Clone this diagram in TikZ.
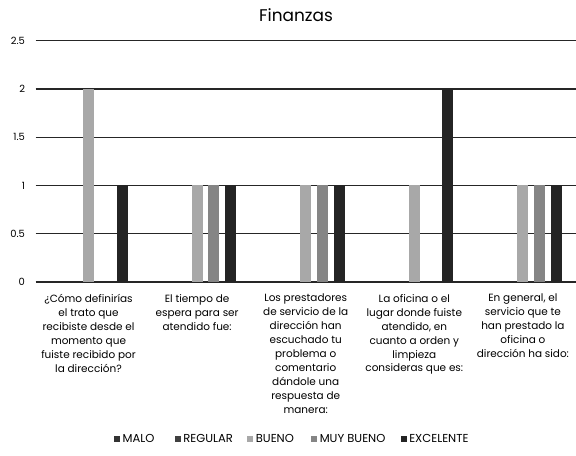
\documentclass[tikz,border=0pt]{standalone}
\usepackage{fontspec}
\setmainfont{Poppins}
\usetikzlibrary{positioning}

\definecolor{bueno}{gray}{0.66}
\definecolor{muybueno}{gray}{0.52}
\definecolor{excelente}{gray}{0.14}
\definecolor{malo}{gray}{0.2}
\definecolor{regular}{gray}{0.25}

\tikzset{
  gridline/.style={line width=1.2bp, black!85},
  axlabel/.style={left, inner sep=0pt, font=\fontsize{10}{11}\selectfont},
  catlabel/.style={below, align=center, inner sep=0pt, font=\fontsize{10.5}{14}\selectfont},
  legitem/.style={inner sep=0pt, font=\fontsize{11.6}{12}\selectfont},
}

\newcommand{\legmark}[1]{\textcolor{#1}{\rule{6bp}{6bp}}\hspace{2.5bp}}

\begin{document}
\begin{tikzpicture}[x=1bp, y=96.5bp]
\useasboundingbox (-34.2,-1.793) rectangle (541.8,2.922);

% title
\node[font=\fontsize{17}{18}\selectfont] (title) at (261.8,2.767) {Finanzas};

% horizontal lines and y labels
\foreach \y/\n in {0/a,0.5/b,1/c,1.5/d,2/e,2.5/f} {
  \draw [gridline] (1.5,\y) -- (541.8,\y);
  \node[axlabel] (y\n) at (-9,\y) {\y};
}

% bars: group / offset / value / colour
\foreach \g/\o/\v/\c in {1/0/2/bueno, 1/2/1/excelente,
                         2/0/1/bueno, 2/1/1/muybueno, 2/2/1/excelente,
                         3/0/1/bueno, 3/1/1/muybueno, 3/2/1/excelente,
                         4/0/1/bueno, 4/2/2/excelente,
                         5/0/1/bueno, 5/1/1/muybueno, 5/2/1/excelente} {
  \fill [\c] ({54.3+108.6*(\g-1)+16.8*\o-5.5},0) rectangle ++(11,\v);
}

% category labels
\node[catlabel] (cat1) at (54.3,-0.125) {¿Cómo definirías\\el trato que\\recibiste desde el\\momento que\\fuiste recibido por\\la dirección?};
\node[catlabel] (cat2) at (162.9,-0.125) {El tiempo de\\espera para ser\\atendido fue:};
\node[catlabel] (cat3) at (271.5,-0.125) {Los prestadores\\de servicio de la\\dirección han\\escuchado tu\\problema o\\comentario\\dándole una\\respuesta de\\manera:};
\node[catlabel] (cat4) at (380.1,-0.125) {La oficina o el\\lugar donde fuiste\\atendido, en\\cuanto a orden y\\limpieza\\consideras que es:};
\node[catlabel] (cat5) at (488.7,-0.125) {En general, el\\servicio que te\\han prestado la\\oficina o\\dirección ha sido:};

% legend
\node[legitem, anchor=west] (lmalo) at (79.8,-1.617) {\legmark{malo}MALO};
\node[legitem, right=20bp of lmalo] (lregular) {\legmark{regular}REGULAR};
\node[legitem, right=14bp of lregular] (lbueno) {\legmark{bueno}BUENO};
\node[legitem, right=17bp of lbueno] (lmuy) {\legmark{muybueno}MUY BUENO};
\node[legitem, right=15bp of lmuy] (lexc) {\legmark{excelente}EXCELENTE};
\end{tikzpicture}
\end{document}
